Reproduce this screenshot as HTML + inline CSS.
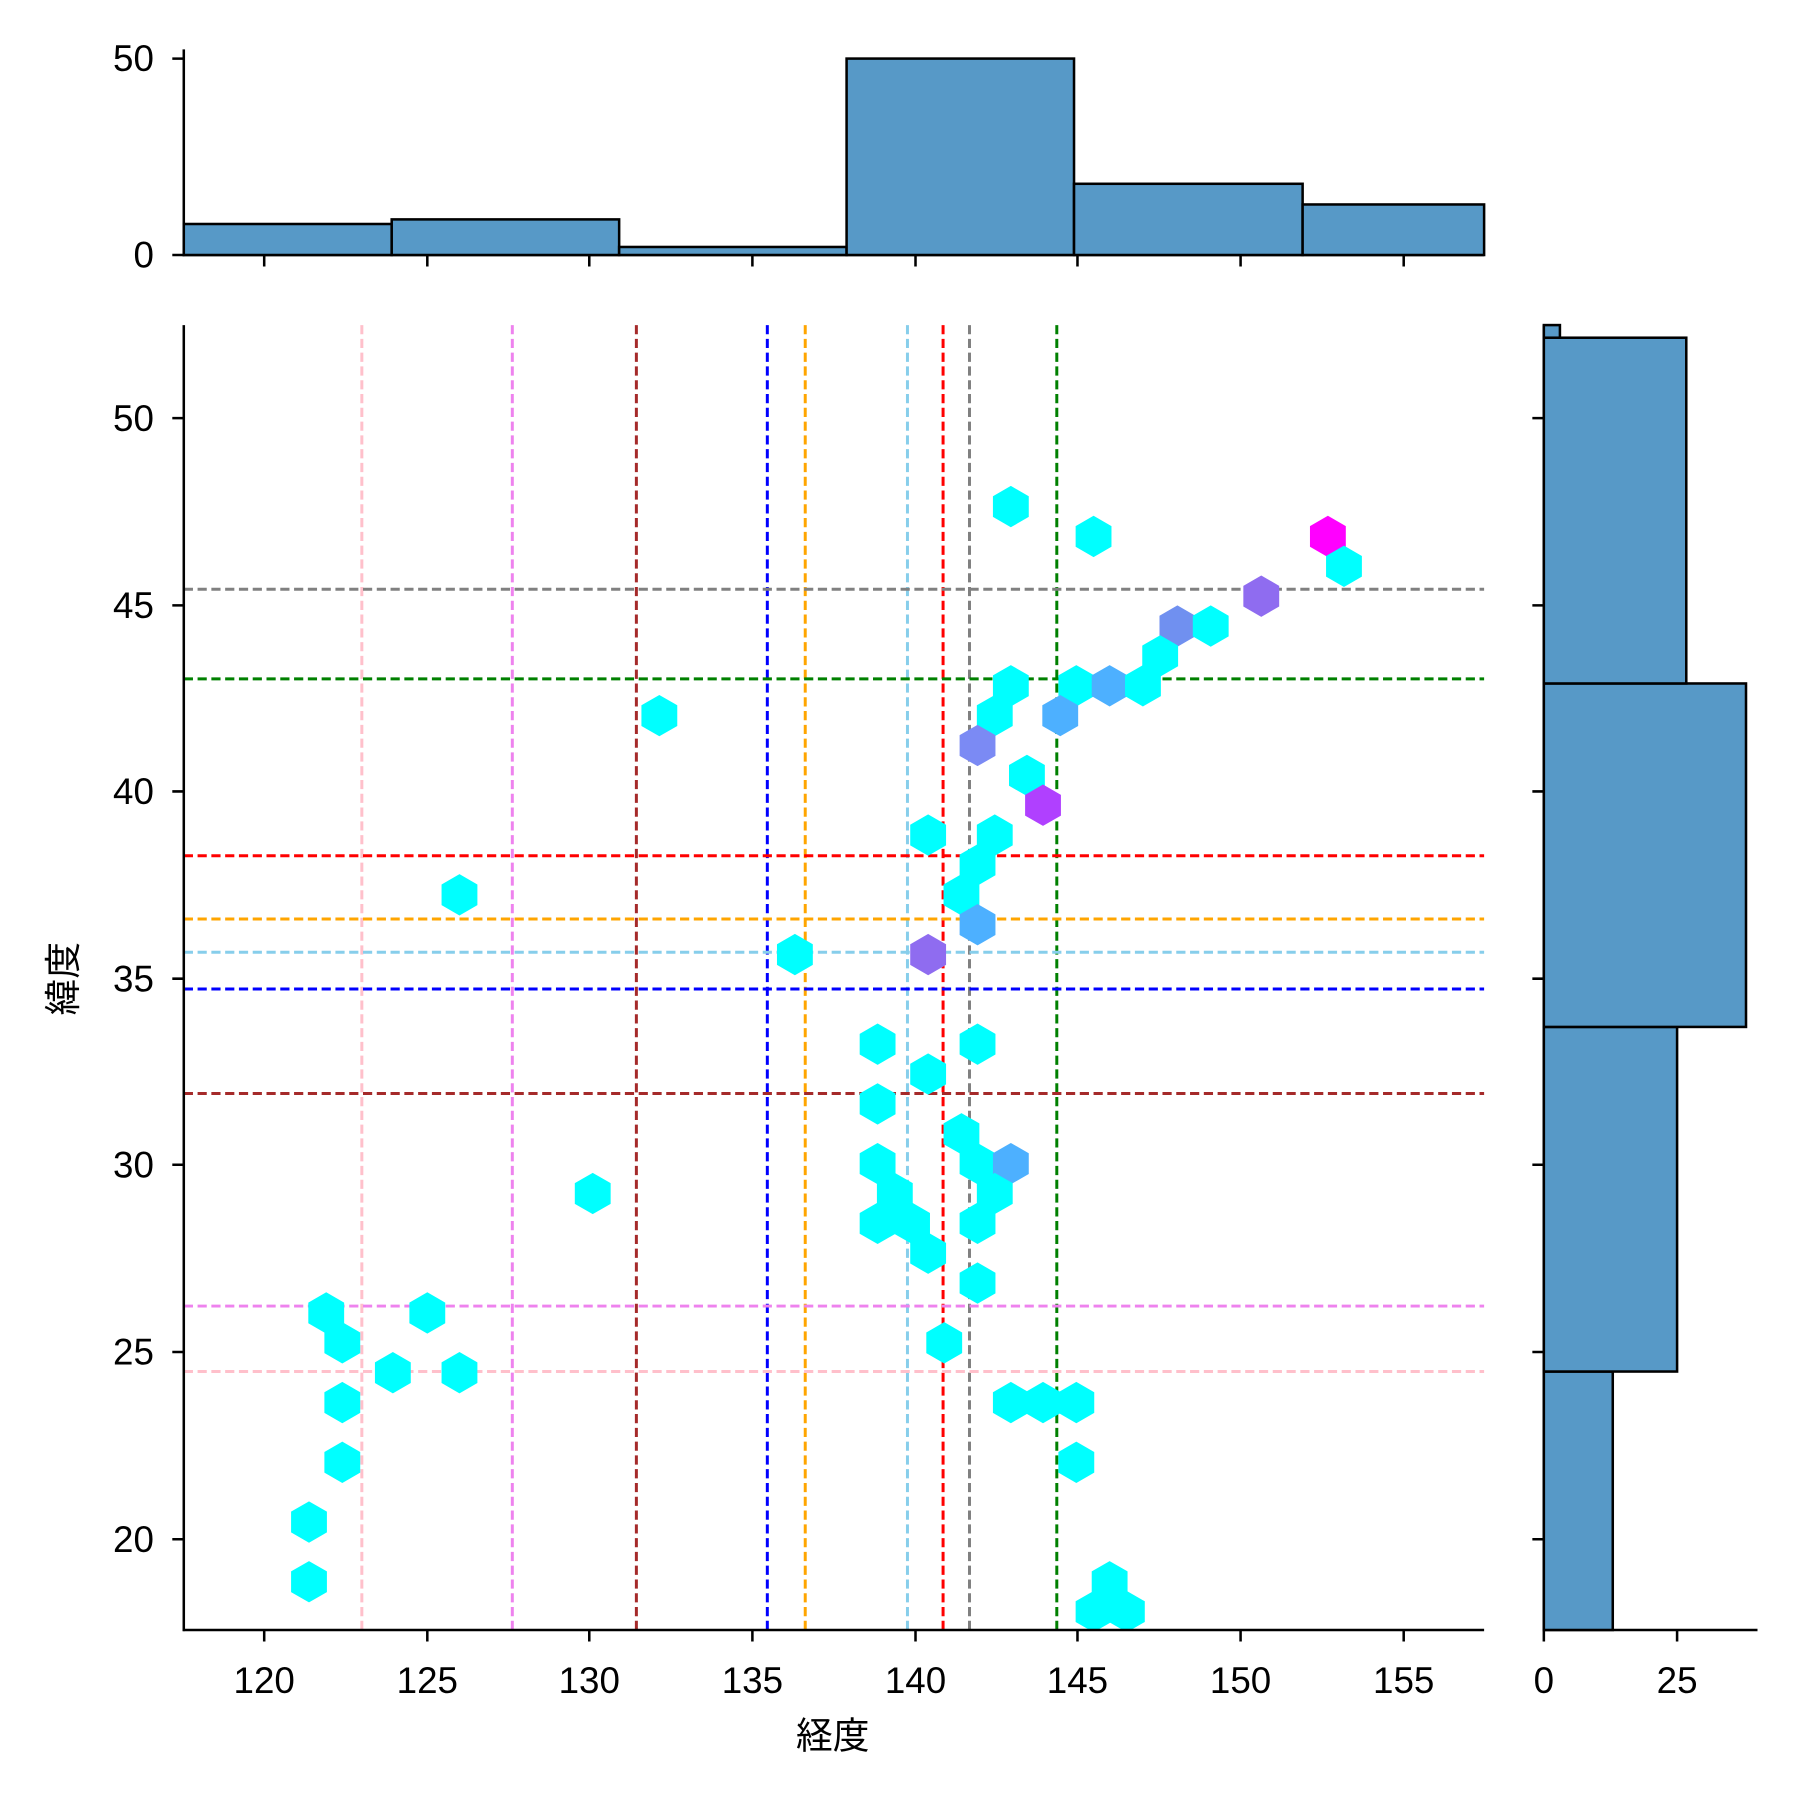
<!DOCTYPE html>
<html><head><meta charset="utf-8"><style>body{margin:0;background:#fff}svg{display:block}text{font-family:"Liberation Sans","Noto Sans CJK JP",sans-serif;fill:#000}</style></head>
<body>
<svg width="1800" height="1800" viewBox="0 0 1567 1567" xmlns="http://www.w3.org/2000/svg">
<rect width="1567" height="1567" fill="#fff"/>
<defs><path id="h" d="M0,-18 L15.6,-9 L15.6,9 L0,18 L-15.6,9 L-15.6,-9Z"/>
<clipPath id="c"><rect x="160" y="283" width="1132" height="1136"/></clipPath></defs>
<g stroke-width="2.6" stroke-dasharray="8,4" fill="none">
<line x1="315" y1="283" x2="315" y2="1419" stroke="pink"/>
<line x1="446" y1="283" x2="446" y2="1419" stroke="violet"/>
<line x1="554" y1="283" x2="554" y2="1419" stroke="brown"/>
<line x1="668" y1="283" x2="668" y2="1419" stroke="blue"/>
<line x1="701" y1="283" x2="701" y2="1419" stroke="orange"/>
<line x1="790" y1="283" x2="790" y2="1419" stroke="skyblue"/>
<line x1="821" y1="283" x2="821" y2="1419" stroke="red"/>
<line x1="844" y1="283" x2="844" y2="1419" stroke="grey"/>
<line x1="920" y1="283" x2="920" y2="1419" stroke="green"/>
<line x1="160" y1="513" x2="1292" y2="513" stroke="grey"/>
<line x1="160" y1="591" x2="1292" y2="591" stroke="green"/>
<line x1="160" y1="745" x2="1292" y2="745" stroke="red"/>
<line x1="160" y1="800" x2="1292" y2="800" stroke="orange"/>
<line x1="160" y1="829" x2="1292" y2="829" stroke="skyblue"/>
<line x1="160" y1="861" x2="1292" y2="861" stroke="blue"/>
<line x1="160" y1="952" x2="1292" y2="952" stroke="brown"/>
<line x1="160" y1="1137" x2="1292" y2="1137" stroke="violet"/>
<line x1="160" y1="1194" x2="1292" y2="1194" stroke="pink"/>
</g>
<g clip-path="url(#c)" fill="#00ffff">
<use href="#h" x="880" y="441"/><use href="#h" x="952" y="467"/><use href="#h" x="1156" y="467" fill="#ff00ff"/><use href="#h" x="1170" y="493"/><use href="#h" x="1098" y="519" fill="#8f6cf0"/><use href="#h" x="1025" y="545" fill="#7090f0"/><use href="#h" x="1054" y="545"/><use href="#h" x="1010" y="571"/><use href="#h" x="880" y="597"/><use href="#h" x="937" y="597"/><use href="#h" x="966" y="597" fill="#4db0ff"/><use href="#h" x="995" y="597"/><use href="#h" x="866" y="623"/><use href="#h" x="923" y="623" fill="#4db0ff"/><use href="#h" x="574" y="623"/><use href="#h" x="851" y="649" fill="#7b8af4"/><use href="#h" x="894" y="675"/><use href="#h" x="908" y="701" fill="#b040ff"/><use href="#h" x="808" y="727"/><use href="#h" x="866" y="727"/><use href="#h" x="851" y="753"/><use href="#h" x="837" y="779"/><use href="#h" x="400" y="779"/><use href="#h" x="851" y="805" fill="#4db0ff"/><use href="#h" x="692" y="831"/><use href="#h" x="808" y="831" fill="#8f6cf0"/><use href="#h" x="764" y="909"/><use href="#h" x="851" y="909"/><use href="#h" x="808" y="935"/><use href="#h" x="764" y="961"/><use href="#h" x="837" y="987"/><use href="#h" x="764" y="1013"/><use href="#h" x="851" y="1013"/><use href="#h" x="880" y="1013" fill="#4db0ff"/><use href="#h" x="779" y="1039"/><use href="#h" x="866" y="1039"/><use href="#h" x="516" y="1039"/><use href="#h" x="764" y="1065"/><use href="#h" x="794" y="1065"/><use href="#h" x="851" y="1065"/><use href="#h" x="808" y="1091"/><use href="#h" x="851" y="1117"/><use href="#h" x="284" y="1143"/><use href="#h" x="372" y="1143"/><use href="#h" x="298" y="1169"/><use href="#h" x="822" y="1169"/><use href="#h" x="342" y="1195"/><use href="#h" x="400" y="1195"/><use href="#h" x="298" y="1221"/><use href="#h" x="880" y="1221"/><use href="#h" x="908" y="1221"/><use href="#h" x="937" y="1221"/><use href="#h" x="298" y="1273"/><use href="#h" x="937" y="1273"/><use href="#h" x="269" y="1325"/><use href="#h" x="269" y="1377"/><use href="#h" x="966" y="1377"/><use href="#h" x="952" y="1403"/><use href="#h" x="981" y="1403"/>
</g>
<g stroke="#000" stroke-width="2.2" fill="none">
<line x1="160" y1="283" x2="160" y2="1420"/><line x1="159" y1="1419" x2="1292" y2="1419"/>
<path d="M230,1419v10M372,1419v10M513,1419v10M655,1419v10M797,1419v10M938,1419v10M1080,1419v10M1222,1419v10"/>
<path d="M160,364h-10M160,527h-10M160,689h-10M160,852h-10M160,1014h-10M160,1177h-10M160,1340h-10"/>
<line x1="160" y1="43" x2="160" y2="223"/><line x1="159" y1="222" x2="1292" y2="222"/>
<path d="M230,222v10M372,222v10M513,222v10M655,222v10M797,222v10M938,222v10M1080,222v10M1222,222v10M160,222h-10M160,51h-10"/>
<line x1="1344" y1="283" x2="1344" y2="1420"/><line x1="1343" y1="1419" x2="1530" y2="1419"/>
<path d="M1344,1419v10M1460,1419v10M1344,364h-10M1344,527h-10M1344,689h-10M1344,852h-10M1344,1014h-10M1344,1177h-10M1344,1340h-10"/>
</g>
<g fill="#5799c7" stroke="#000" stroke-width="2.2">
<rect x="160" y="195" width="181" height="27"/><rect x="341" y="191" width="198" height="31"/><rect x="539" y="215" width="198" height="7"/><rect x="737" y="51" width="198" height="171"/><rect x="935" y="160" width="199" height="62"/><rect x="1134" y="178" width="158" height="44"/>
<rect x="1344" y="1194" width="60" height="225"/><rect x="1344" y="894" width="116" height="300"/><rect x="1344" y="595" width="176" height="299"/><rect x="1344" y="294" width="124" height="301"/><rect x="1344" y="283" width="14" height="11"/>
</g>
<g font-size="32" text-anchor="middle">
<text x="230" y="1474">120</text><text x="372" y="1474">125</text><text x="513" y="1474">130</text><text x="655" y="1474">135</text><text x="797" y="1474">140</text><text x="938" y="1474">145</text><text x="1080" y="1474">150</text><text x="1222" y="1474">155</text>
<text x="1344" y="1474">0</text><text x="1460" y="1474">25</text>
<text x="725" y="1522">経度</text>
<text transform="translate(66,852) rotate(-90)">緯度</text>
</g>
<g font-size="32" text-anchor="end">
<text x="134" y="375">50</text><text x="134" y="538">45</text><text x="134" y="700">40</text><text x="134" y="863">35</text><text x="134" y="1025">30</text><text x="134" y="1188">25</text><text x="134" y="1351">20</text>
<text x="134" y="62">50</text><text x="134" y="233">0</text>
</g>
</svg>
</body></html>
